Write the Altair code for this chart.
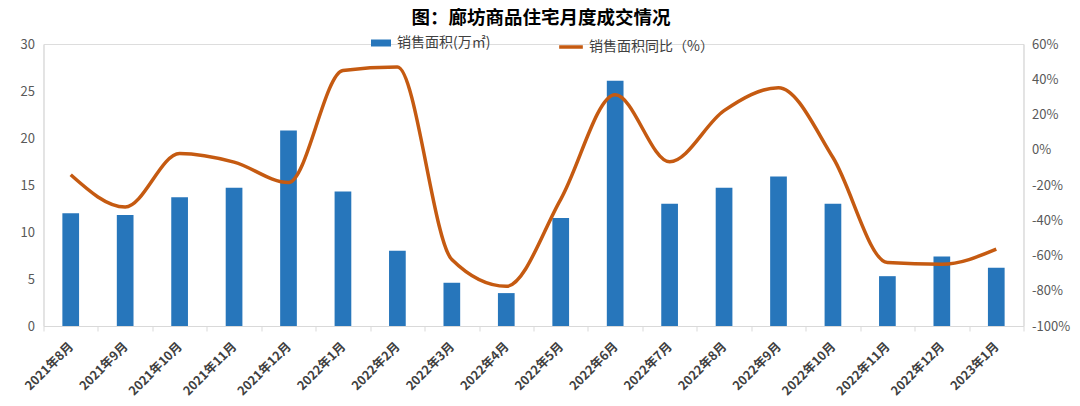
import altair as alt
import pandas as pd

months = ["2021年8月", "2021年9月", "2021年10月", "2021年11月", "2021年12月",
          "2022年1月", "2022年2月", "2022年3月", "2022年4月", "2022年5月",
          "2022年6月", "2022年7月", "2022年8月", "2022年9月", "2022年10月",
          "2022年11月", "2022年12月", "2023年1月"]
area = [12.0, 11.8, 13.7, 14.7, 20.8, 14.3, 8.0, 4.6, 3.5, 11.5,
        26.1, 13.0, 14.7, 15.9, 13.0, 5.3, 7.4, 6.2]
yoy = [-14.2, -32.5, -2.1, -7.0, -18.6, 45.0, 46.9, -62.3, -77.5, -28.1,
       31.2, -6.8, 22.2, 35.2, -4.4, -64.0, -65.0, -56.4]

bar_name = "销售面积(万㎡)"
line_name = "销售面积同比（%）"
title_text = ["图：廊坊商品住宅月度成交情况"]

BLUE = "#2776BB"
ORANGE = "#C55A11"
FONT = "Noto Sans CJK SC"

df = pd.DataFrame({"month": months, "area": area, "yoy": yoy})
df["bar_name"] = bar_name
df["line_name"] = line_name
title_df = pd.DataFrame({"t": title_text})

x_enc = alt.X(
    "month:N", sort=months, title=None,
    scale=alt.Scale(paddingInner=0, paddingOuter=0),
    axis=alt.Axis(labelAngle=315, labelAlign="right", labelBaseline="middle",
                  labelFontWeight="bold", labelFontSize=12.5, labelColor="#404040",
                  labelPadding=13, tickBand="extent", tickSize=5,
                  tickColor="#D9D9D9", domainColor="#D9D9D9", labelFont=FONT),
)

bars = alt.Chart(df).mark_bar(size=16.7).encode(
    x=x_enc,
    y=alt.Y("area:Q", title=None,
            scale=alt.Scale(domain=[0, 30], nice=False),
            axis=alt.Axis(values=[0, 5, 10, 15, 20, 25, 30], ticks=False,
                          grid=False, labelFontSize=13, labelColor="#595959",
                          labelPadding=9, domainColor="#D9D9D9", labelFont=FONT)),
    color=alt.Color("bar_name:N",
                    scale=alt.Scale(domain=[bar_name], range=[BLUE]),
                    legend=alt.Legend(title=None, orient="none", legendX=327.5,
                                      legendY=-11, symbolType="M-1,-0.35H1V0.35H-1Z",
                                      symbolSize=400, symbolStrokeWidth=0,
                                      labelFontSize=14, labelColor="#404040",
                                      labelOffset=6, padding=0, labelFont=FONT)),
)

line = alt.Chart(df).mark_line(strokeWidth=3.5, interpolate="monotone").encode(
    x=alt.X("month:N", sort=months),
    y=alt.Y("yoy:Q", title=None,
            scale=alt.Scale(domain=[-100, 60], nice=False),
            axis=alt.Axis(orient="right", values=[-100, -80, -60, -40, -20, 0, 20, 40, 60],
                          labelExpr="datum.value + '%'", ticks=False, grid=False,
                          labelFontSize=13, labelColor="#595959", labelPadding=8,
                          domainColor="#D9D9D9", labelFont=FONT)),
    color=alt.Color("line_name:N",
                    scale=alt.Scale(domain=[line_name], range=[ORANGE]),
                    legend=alt.Legend(title=None, orient="none", legendX=513.5,
                                      legendY=-11, symbolType="stroke",
                                      symbolSize=560, symbolStrokeWidth=3.5,
                                      labelFontSize=14, labelColor="#404040",
                                      labelOffset=4, padding=0, labelFont=FONT)),
)

title = alt.Chart(title_df).mark_text(
    font=FONT, fontSize=18.5, fontWeight="bold", color="#000000",
    align="center", baseline="middle",
).encode(text="t:N", x=alt.value(497.5), y=alt.value(-26))

chart = alt.layer(bars, line, title).resolve_scale(
    y="independent", color="independent"
).resolve_legend(color="independent").properties(
    width=980, height=282,
    padding={"left": 35.5, "top": 36, "right": 48.5, "bottom": 72},
    autosize=alt.AutoSizeParams(type="none"),
).configure_view(stroke=None).configure(font=FONT)

chart.save("out.html", embed_options={"renderer": "svg", "actions": False})
